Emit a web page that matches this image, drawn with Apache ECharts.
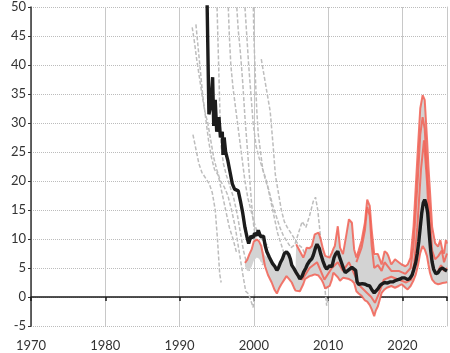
<!DOCTYPE html>
<html>
<head>
<meta charset="utf-8">
<script src="https://cdn.jsdelivr.net/npm/echarts@6/dist/echarts.min.js"></script>
<style>
  html, body { margin: 0; padding: 0; background: #fff; }
  #chart { width: 450px; height: 353px; }
</style>
</head>
<body>
<div id="chart"></div>
<script>
// median (black line)
const median = [
  [1993.69, 52], [1993.95, 31.5], [1994.2, 33], [1994.45, 37.9], [1994.6, 29.5], [1994.8, 34],
  [1995.0, 28.5], [1995.3, 31], [1995.5, 27.5], [1995.75, 28.5], [1995.85, 24.5], [1996.0, 27.5],
  [1996.2, 25], [1996.5, 23.5], [1996.8, 21.5], [1997.1, 19.5], [1997.4, 18.6], [1997.9, 18.3],
  [1998.2, 16.5], [1998.5, 14.5], [1998.8, 12], [1999.1, 10.2], [1999.3, 9.2], [1999.6, 10.5],
  [1999.9, 10.2], [2000.1, 11], [2000.4, 10.6], [2000.6, 11.5], [2000.9, 10.4], [2001.3, 10.5],
  [2001.5, 9], [2001.75, 7.8], [2002.1, 6.8], [2002.5, 5.8], [2002.85, 5.2], [2003.1, 4.6],
  [2003.3, 5], [2003.6, 6], [2003.85, 6.6], [2004.1, 7.5], [2004.4, 7.8], [2004.7, 7.3],
  [2004.9, 6.6], [2005.1, 5.5], [2005.4, 4.9], [2005.7, 4.2], [2006.0, 3.6], [2006.2, 3.1],
  [2006.5, 3.6], [2006.7, 4.3], [2007.0, 5], [2007.2, 5.6], [2007.5, 6.2], [2007.8, 6.6],
  [2008.0, 7.2], [2008.3, 8.5], [2008.5, 9.1], [2008.8, 8.4], [2009.0, 7.4], [2009.3, 6.2],
  [2009.6, 5.2], [2009.8, 4.8], [2010.2, 5.4], [2010.5, 5.2], [2010.8, 6.8], [2011.0, 7.4],
  [2011.3, 7.9], [2011.5, 7], [2011.8, 5.9], [2012.1, 4.8], [2012.3, 4.2], [2012.6, 4.5],
  [2012.9, 4.8], [2013.2, 5.1], [2013.4, 5.3], [2013.7, 4.6], [2013.9, 2.6], [2014.1, 2.2],
  [2014.3, 2.5], [2014.6, 2.3], [2015.0, 2.2], [2015.3, 2.0], [2015.6, 1.9], [2015.9, 1.2],
  [2016.2, 0.7], [2016.4, 0.9], [2016.7, 1.4], [2017.0, 2.0], [2017.3, 2.3], [2017.6, 2.5],
  [2018.0, 2.4], [2018.3, 2.6], [2018.7, 2.6], [2019.0, 2.8], [2019.4, 3.0], [2019.7, 3.1],
  [2020.0, 3.3], [2020.3, 3.3], [2020.7, 3.0], [2021.0, 3.2], [2021.3, 3.8], [2021.5, 4.6],
  [2021.8, 6.0], [2022.0, 7.5], [2022.2, 9.5], [2022.4, 12], [2022.6, 14.5], [2022.8, 16.2],
  [2023.0, 16.8], [2023.2, 16], [2023.4, 14.5], [2023.6, 11], [2023.8, 8], [2024.0, 6],
  [2024.2, 4.8], [2024.5, 4], [2024.8, 4.2], [2025.1, 4.8], [2025.4, 5], [2025.7, 4.7], [2026.0, 4.5]
];

// grey range band
const bandYears = [
  1998.8, 1999.1, 1999.4, 1999.7, 2000.0, 2000.4, 2000.7, 2001.0, 2001.5, 2001.9,
  2002.4, 2002.8, 2003.1, 2003.4, 2003.7, 2004.1, 2004.4, 2004.8, 2005.1, 2005.4,
  2005.6, 2005.7, 2006.2, 2006.65, 2006.9, 2007.1, 2007.5, 2007.8, 2008.2, 2008.7,
  2008.9, 2009.1, 2009.3, 2009.6, 2009.8, 2010.2, 2010.5, 2010.7, 2010.9, 2011.3,
  2011.6, 2012.0, 2012.5, 2012.8, 2013.2, 2013.5, 2013.8, 2014.1, 2014.5, 2014.95,
  2015.26, 2015.6, 2015.85, 2016.2, 2016.4, 2016.7, 2017.2, 2017.6, 2017.9, 2018.1,
  2018.5, 2019.0, 2019.5, 2019.9, 2020.4, 2020.7, 2021.1, 2021.5, 2021.8, 2022.1,
  2022.4, 2022.72, 2023.0, 2023.3, 2023.5, 2023.7, 2024.0, 2024.4, 2024.8, 2025.1,
  2025.4, 2025.6, 2025.85, 2026.0
];
const bandLow = [
  5.3, 4.5, 4.6, 5.2, 6.3, 6.8, 6.6, 6.0, 5.3, 3.8,
  2.5, 1.2, 0.6, 1.5, 2.2, 3.0, 3.6, 3.0, 2.5, 1.6,
  1.1, 1.0, 1.0, 2.2, 3.1, 3.3, 3.6, 3.7, 3.9, 3.7,
  3.6, 3.0, 2.5, 1.5, 1.3, 1.9, 3.0, 4.2, 3.9, 3.4,
  2.8, 3.3, 3.2, 3.1, 2.8, 2.4, 1.0, 0.6, 0.2, -0.6,
  -0.8, -1.4, -2.1, -3.3, -2.4, -1.6, 0.7, 1.3, 1.6, 1.7,
  1.9, 1.6, 1.9, 2.2, 1.6, 1.3, 1.9, 2.9, 3.9, 5.5,
  7.6, 8.8, 8.2, 7.1, 5.6, 4.2, 3.0, 2.4, 2.2, 2.3,
  2.4, 2.5, 2.5, 2.6
];
const bandHigh = [
  5.9, 6.4, 7.4, 8.2, 9.6, 9.9, 9.6, 8.8, 7.2, 6.8,
  6.0, 5.2, 4.8, 5.0, 6.3, 7.4, 7.6, 6.8, 5.6, 4.6,
  4.5, 9.1, 7.9, 6.8, 7.6, 8.5, 8.4, 8.8, 10.8, 11.1,
  10.4, 9.4, 8.3, 7.1, 6.9, 6.8, 7.6, 8.3, 8.8, 12.2,
  8.5, 7.4, 11.1, 13.4, 12.8, 8.2, 6.8, 8.0, 9.7, 12.8,
  16.8, 15.7, 11.7, 7.4, 7.1, 7.4, 5.6, 7.9, 7.6, 7.1,
  5.6, 6.5, 6.0, 5.6, 5.3, 5.6, 6.8, 12.2, 19.1, 26.0,
  32.5, 34.8, 34.0, 27.5, 22.5, 18.4, 12.1, 9.3, 8.7, 9.8,
  8.0, 7.5, 9.8, 9.2
];

// extra red country lines inside the band
const redMid = [
  [2005.7, 4], [2006.5, 3], [2007.5, 5], [2008.5, 6], [2009.5, 3], [2010.5, 5], [2011.3, 6],
  [2012.0, 4.5], [2012.8, 6], [2013.5, 4], [2014.2, 2], [2015.0, 1], [2015.8, 0], [2016.3, -1],
  [2016.8, 0.5], [2017.5, 3], [2018.5, 3.5], [2019.5, 3], [2020.5, 2.5], [2021.2, 3], [2021.6, 6],
  [2022.0, 12], [2022.5, 22], [2022.9, 27], [2023.3, 20], [2023.7, 10], [2024.1, 5], [2024.6, 4],
  [2025.2, 5.5], [2025.6, 4.5], [2026.0, 5]
];
const redUpper = [
  [2013.8, 6], [2014.5, 8.5], [2014.95, 11.5], [2015.26, 15.5], [2015.6, 14], [2015.85, 9],
  [2016.2, 5], [2016.7, 5.5], [2017.2, 4.5], [2017.6, 6], [2018.5, 4.5], [2019.5, 4.5],
  [2020.4, 4], [2021.1, 5], [2021.5, 9], [2021.8, 15], [2022.1, 21], [2022.4, 28], [2022.72, 31],
  [2023.0, 29], [2023.3, 22], [2023.7, 14], [2024.0, 8], [2024.4, 6.5], [2024.8, 7], [2025.3, 8],
  [2025.6, 6], [2026.0, 7.5]
];

// grey dashed lines (high-inflation history)
const dashed = [
  [[1991.7, 46.5], [1992.0, 44], [1992.3, 41], [1992.6, 38.5], [1993.0, 35], [1993.4, 32], [1993.8, 30],
   [1994.2, 27], [1994.6, 24], [1995.0, 22], [1995.5, 20], [1996.0, 19], [1996.5, 17.5], [1997.0, 15],
   [1997.5, 12], [1998.0, 8], [1998.5, 4], [1998.9, 1], [1999.3, 0.5], [1999.9, -1.8], [2000.1, 0.5]],
  [[1991.8, 28], [1992.2, 25.5], [1992.6, 23], [1993.0, 21.5], [1993.5, 20.5], [1994.0, 19.5],
   [1994.4, 18], [1994.8, 15], [1995.1, 10], [1995.4, 4], [1995.6, 2.5]],
  [[1992.2, 47], [1992.5, 43], [1992.8, 39], [1993.1, 35], [1993.5, 31], [1993.9, 27], [1994.3, 24],
   [1994.7, 22], [1995.2, 21], [1995.7, 18], [1996.2, 15], [1996.7, 12], [1997.2, 10], [1997.7, 7.5]],
  [[1995.0, 52], [1995.15, 45], [1995.3, 38], [1995.45, 31], [1995.6, 26], [1995.9, 23], [1996.3, 21],
   [1996.8, 19], [1997.3, 17], [1997.8, 14], [1998.2, 11], [1998.6, 8], [1999.0, 6], [1999.4, 4.5]],
  [[1996.5, 52], [1996.7, 45], [1996.9, 40], [1997.2, 36], [1997.6, 32], [1998.0, 28], [1998.4, 24],
   [1998.8, 20], [1999.2, 17], [1999.6, 15], [2000.0, 13], [2000.5, 11], [2001.0, 10], [2001.5, 9.5], [2002.0, 8.5]],
  [[1997.6, 52], [1997.9, 46], [1998.2, 42], [1998.5, 37], [1998.8, 31], [1999.1, 26], [1999.4, 21],
   [1999.7, 16], [2000.0, 12], [2000.4, 9], [2000.8, 7], [2001.2, 5.5]],
  [[1998.7, 52], [1999.0, 46], [1999.3, 40], [1999.6, 35], [1999.9, 30], [2000.3, 26], [2000.7, 24],
   [2001.2, 22], [2001.7, 20], [2002.2, 17], [2002.7, 14], [2003.2, 11], [2003.7, 9], [2004.2, 7], [2004.7, 6]],
  [[1999.9, 52], [2000.0, 45], [2000.2, 38], [2000.4, 32], [2000.6, 28], [2000.9, 25], [2001.2, 22],
   [2001.6, 20], [2002.0, 18.5], [2002.5, 16], [2003.0, 14], [2003.5, 12], [2004.0, 10.5], [2004.5, 9.5],
   [2005.0, 8.5], [2005.5, 9], [2006.0, 11], [2006.5, 13], [2007.0, 12], [2007.5, 14], [2008.0, 16.5],
   [2008.3, 17.2], [2008.6, 15], [2009.0, 10], [2009.3, 5], [2009.6, 1], [2009.8, -1.5], [2010.0, 0]],
  [[2001.0, 41], [2001.4, 38], [2001.8, 35], [2002.2, 32], [2002.6, 26], [2002.9, 21], [2003.3, 18],
   [2003.7, 15], [2004.1, 13], [2004.5, 12], [2005.0, 11], [2005.5, 10], [2006.0, 9], [2006.5, 8.5], [2007.0, 7]]
];

const yTicks = { min: -5, max: 50, interval: 5 };
const xTicks = { min: 1970, max: 2026, interval: 10 };

const RED = 'rgba(242, 96, 84, 0.85)';
const FONT = 'Lato';

const bandData = bandYears.map((y, i) => [y, bandLow[i], bandHigh[i]]);
// red outline: upper edge before 2001, then lower edge; second one from 2005.7 along the top
const redEdgeA = bandYears.map((y, i) => [y, y <= 2001.0 ? bandHigh[i] : bandLow[i]]);
const redEdgeB = bandYears.map((y, i) => [y, bandHigh[i]]).filter(p => p[0] >= 2005.7);

const chart = echarts.init(document.getElementById('chart'));

const series = [];
dashed.forEach((d, i) => {
  series.push({
    name: 'hist' + i, type: 'line', data: d, symbol: 'none', z: 1,
    lineStyle: { color: '#bdbdbd', width: 1.5, type: [4, 2] }
  });
});

// band drawn as one polygon: upper edge forward, lower edge back
series.push({
  name: 'band', type: 'custom', data: bandData, z: 2, clip: true,
  renderItem: function (params, api) {
    if (params.dataIndex !== 0) return null;
    const top = bandData.map(d => api.coord([d[0], d[2]]));
    const bottom = bandData.map(d => api.coord([d[0], d[1]])).reverse();
    return {
      type: 'polygon',
      shape: { points: top.concat(bottom) },
      style: { fill: '#d3d3d3' }
    };
  },
  encode: { x: 0, y: [1, 2] }
});

[redEdgeA, redEdgeB, redMid, redUpper].forEach((d, i) => {
  series.push({
    name: 'red' + i, type: 'line', data: d, symbol: 'none', z: 3,
    lineStyle: { color: RED, width: 2 }
  });
});
series.push({
  name: 'median', type: 'line', data: median, symbol: 'none', z: 5,
  lineStyle: { color: '#1c1c1c', width: 3.4 }
});

chart.setOption({
  animation: false,
  grid: { left: 31, right: 3, top: 7, bottom: 27, containLabel: false },
  xAxis: [
    {
      type: 'value', min: xTicks.min, max: xTicks.max, interval: xTicks.interval,
      axisLine: { show: false, onZero: false },
      axisTick: { show: false },
      axisLabel: {
        color: '#333', fontSize: 13, fontFamily: FONT, margin: 13, showMaxLabel: false,
        formatter: v => String(v)
      },
      splitLine: { show: true, lineStyle: { color: '#c8c8c8', width: 1, type: 'solid' } }
    },
    {
      type: 'value', min: xTicks.min, max: xTicks.max, interval: xTicks.interval,
      position: 'bottom',
      axisLine: { show: true, onZero: true, lineStyle: { color: '#1a1a1a', width: 1.5 } },
      axisTick: { show: true, length: 4, lineStyle: { color: '#1a1a1a', width: 1.5 } },
      axisLabel: { show: false },
      splitLine: { show: false }
    }
  ],
  yAxis: [
    {
      type: 'value', min: yTicks.min, max: yTicks.max, interval: yTicks.interval,
      axisLine: { show: true, onZero: false, lineStyle: { color: '#333', width: 1.5 } },
      axisTick: { show: true, length: 3, lineStyle: { color: '#333' } },
      axisLabel: { color: '#333', fontSize: 13, fontFamily: FONT, margin: 5 },
      splitLine: { show: true, lineStyle: { color: '#bcbcbc', type: [1, 1], width: 1 } }
    },
    {
      type: 'value', min: yTicks.min, max: yTicks.max, interval: yTicks.interval,
      position: 'right',
      axisLine: { show: true, onZero: false, lineStyle: { color: '#c8c8c8', width: 1 } },
      axisTick: { show: false }, axisLabel: { show: false }, splitLine: { show: false }
    }
  ],
  series: series
});
</script>
</body>
</html>
